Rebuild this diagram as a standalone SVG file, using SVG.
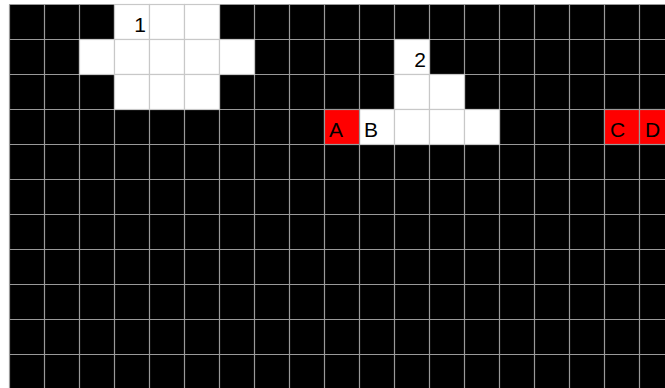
<svg xmlns="http://www.w3.org/2000/svg" width="665" height="388" viewBox="0 0 665 388">
<defs>
<style>
.bg{fill:#000}
.grid line{stroke:#999;stroke-width:1.2}
.w{fill:#fff;stroke:#c8c8c8;stroke-width:1.2}
.r{fill:#ff0000;stroke:#999;stroke-width:1.2}
.t{font-family:"Liberation Sans",Arial,sans-serif;font-size:21px;fill:#000}
.n{text-anchor:end}
</style>
</defs>
<rect x="0" y="0" width="665" height="388" fill="#fff"/>
<rect class="bg" x="9.5" y="4.5" width="656" height="384"/>
<g class="grid">
<line x1="9.5" y1="4.5" x2="9.5" y2="388"/>
<line x1="44.5" y1="4.5" x2="44.5" y2="388"/>
<line x1="79.5" y1="4.5" x2="79.5" y2="388"/>
<line x1="114.5" y1="4.5" x2="114.5" y2="388"/>
<line x1="149.5" y1="4.5" x2="149.5" y2="388"/>
<line x1="184.5" y1="4.5" x2="184.5" y2="388"/>
<line x1="219.5" y1="4.5" x2="219.5" y2="388"/>
<line x1="254.5" y1="4.5" x2="254.5" y2="388"/>
<line x1="289.5" y1="4.5" x2="289.5" y2="388"/>
<line x1="324.5" y1="4.5" x2="324.5" y2="388"/>
<line x1="359.5" y1="4.5" x2="359.5" y2="388"/>
<line x1="394.5" y1="4.5" x2="394.5" y2="388"/>
<line x1="429.5" y1="4.5" x2="429.5" y2="388"/>
<line x1="464.5" y1="4.5" x2="464.5" y2="388"/>
<line x1="499.5" y1="4.5" x2="499.5" y2="388"/>
<line x1="534.5" y1="4.5" x2="534.5" y2="388"/>
<line x1="569.5" y1="4.5" x2="569.5" y2="388"/>
<line x1="604.5" y1="4.5" x2="604.5" y2="388"/>
<line x1="639.5" y1="4.5" x2="639.5" y2="388"/>
<line x1="9.5" y1="4.5" x2="665" y2="4.5"/>
<line x1="9.5" y1="39.5" x2="665" y2="39.5"/>
<line x1="9.5" y1="74.5" x2="665" y2="74.5"/>
<line x1="9.5" y1="109.5" x2="665" y2="109.5"/>
<line x1="9.5" y1="144.5" x2="665" y2="144.5"/>
<line x1="9.5" y1="179.5" x2="665" y2="179.5"/>
<line x1="9.5" y1="214.5" x2="665" y2="214.5"/>
<line x1="9.5" y1="249.5" x2="665" y2="249.5"/>
<line x1="9.5" y1="284.5" x2="665" y2="284.5"/>
<line x1="9.5" y1="319.5" x2="665" y2="319.5"/>
<line x1="9.5" y1="354.5" x2="665" y2="354.5"/>
</g>
<g id="shape1">
<rect class="w" x="114.5" y="4.5" width="35" height="35"/>
<rect class="w" x="149.5" y="4.5" width="35" height="35"/>
<rect class="w" x="184.5" y="4.5" width="35" height="35"/>
<rect class="w" x="79.5" y="39.5" width="35" height="35"/>
<rect class="w" x="114.5" y="39.5" width="35" height="35"/>
<rect class="w" x="149.5" y="39.5" width="35" height="35"/>
<rect class="w" x="184.5" y="39.5" width="35" height="35"/>
<rect class="w" x="219.5" y="39.5" width="35" height="35"/>
<rect class="w" x="114.5" y="74.5" width="35" height="35"/>
<rect class="w" x="149.5" y="74.5" width="35" height="35"/>
<rect class="w" x="184.5" y="74.5" width="35" height="35"/>
<text class="t n" x="146" y="32">1</text>
</g>
<g id="shape2">
<rect class="w" x="394.5" y="39.5" width="35" height="35"/>
<rect class="w" x="394.5" y="74.5" width="35" height="35"/>
<rect class="w" x="429.5" y="74.5" width="35" height="35"/>
<rect class="w" x="359.5" y="109.5" width="35" height="35"/>
<rect class="w" x="394.5" y="109.5" width="35" height="35"/>
<rect class="w" x="429.5" y="109.5" width="35" height="35"/>
<rect class="w" x="464.5" y="109.5" width="35" height="35"/>
<text class="t n" x="426" y="67">2</text>
<text class="t" x="364" y="137">B</text>
</g>
<g id="cellA">
<rect class="r" x="324.5" y="109.5" width="35" height="35"/>
<text class="t" x="329" y="137">A</text>
</g>
<g id="cellC">
<rect class="r" x="604.5" y="109.5" width="35" height="35"/>
<text class="t" x="610" y="137">C</text>
</g>
<g id="cellD">
<rect class="r" x="639.5" y="109.5" width="35" height="35"/>
<text class="t" x="645" y="137">D</text>
</g>
</svg>
